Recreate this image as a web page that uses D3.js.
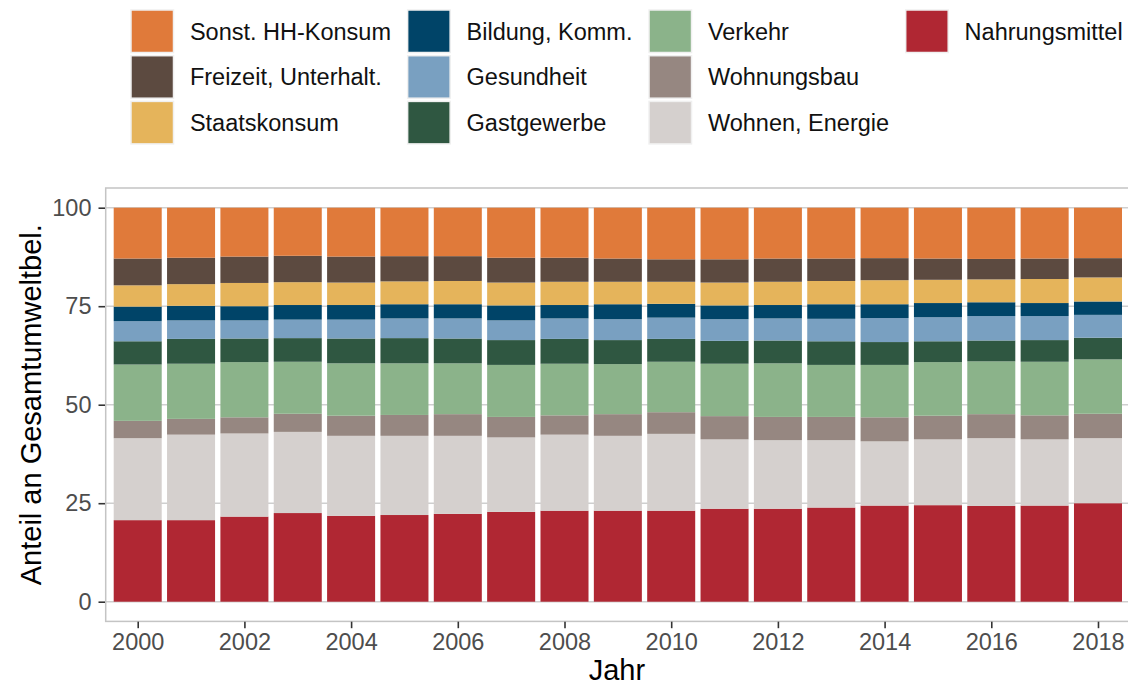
<!DOCTYPE html>
<html>
<head>
<meta charset="utf-8">
<script src="https://cdn.jsdelivr.net/npm/d3@7"></script>
<style>
  html, body { margin: 0; padding: 0; background: #fff; }
  svg { display: block; font-family: "Liberation Sans", Arial, sans-serif; }
</style>
</head>
<body>
<div id="chart"></div>
<script>
// Anteil an Gesamtumweltbelastung, 2000-2018 (Prozent)
const years = d3.range(2000, 2019);

const nahrungsmittel = [20.7, 20.7, 21.6, 22.5, 21.8, 22.0, 22.3, 22.8, 23.1, 23.1, 23.1, 23.6, 23.6, 23.9, 24.4, 24.5, 24.3, 24.4, 25.0];
const wohnenEnergie  = [20.8, 21.7, 21.1, 20.6, 20.3, 20.1, 19.8, 18.9, 19.3, 19.0, 19.5, 17.6, 17.4, 17.1, 16.3, 16.7, 17.2, 16.8, 16.5];
const wohnungsbau    = [4.4, 4.0, 4.1, 4.6, 5.1, 5.3, 5.5, 5.2, 4.9, 5.5, 5.5, 5.9, 5.9, 5.9, 6.1, 6.0, 6.1, 6.1, 6.2];
const verkehr        = [14.3, 14.0, 14.0, 13.2, 13.3, 13.1, 12.9, 13.2, 13.1, 12.7, 12.8, 13.3, 13.6, 13.2, 13.3, 13.6, 13.4, 13.6, 13.8];
const gastgewerbe    = [5.9, 6.3, 6.0, 6.0, 6.3, 6.4, 6.3, 6.3, 6.3, 6.1, 5.8, 5.8, 5.8, 6.0, 5.8, 5.3, 5.3, 5.5, 5.5];
const gesundheit     = [5.1, 4.7, 4.6, 4.7, 4.8, 5.0, 5.1, 5.0, 5.2, 5.3, 5.4, 5.5, 5.6, 5.7, 6.1, 6.1, 6.2, 6.1, 5.8];
const bildung        = [3.7, 3.7, 3.6, 3.7, 3.7, 3.6, 3.6, 3.8, 3.4, 3.8, 3.5, 3.5, 3.4, 3.7, 3.5, 3.6, 3.5, 3.3, 3.4];
const staatskonsum   = [5.4, 5.5, 5.9, 5.8, 5.7, 5.8, 5.9, 5.8, 5.9, 5.7, 5.6, 5.8, 5.9, 5.9, 6.1, 5.9, 5.8, 6.1, 6.1];
const freizeit       = [6.8, 6.7, 6.7, 6.7, 6.6, 6.4, 6.3, 6.3, 6.1, 5.9, 5.7, 5.9, 5.9, 5.7, 5.6, 5.4, 5.2, 5.2, 4.9];
const sonstHH        = [12.9, 12.7, 12.4, 12.2, 12.4, 12.3, 12.3, 12.7, 12.7, 12.9, 13.1, 13.1, 12.9, 12.9, 12.8, 12.9, 13.0, 12.9, 12.8];

// legend order (column-major, 3 rows)
const categories = [
  "Sonst. HH-Konsum", "Freizeit, Unterhalt.", "Staatskonsum",
  "Bildung, Komm.", "Gesundheit", "Gastgewerbe",
  "Verkehr", "Wohnungsbau", "Wohnen, Energie",
  "Nahrungsmittel"
];
const colors = [
  "#e07a3a", "#5c4a40", "#e5b45b",
  "#004468", "#79a0c1", "#2f5741",
  "#8bb38a", "#968781", "#d5d0ce",
  "#b02733"
];
const seriesValues = [sonstHH, freizeit, staatskonsum, bildung, gesundheit, gastgewerbe,
                      verkehr, wohnungsbau, wohnenEnergie, nahrungsmittel];
const yTicks = [0, 25, 50, 75, 100];
const xTicks = d3.range(2000, 2019, 2);

const width = 1128, height = 687;
const margin = {left: 105.7, right: 1130, top: 188, bottom: 621.4};

// table for the stack
const table = years.map((yr, i) => {
  const row = {year: yr};
  categories.forEach((c, k) => row[c] = seriesValues[k][i]);
  return row;
});
const stackKeys = categories.slice().reverse(); // Nahrungsmittel at the bottom
const series = d3.stack().keys(stackKeys)(table);

const color = d3.scaleOrdinal().domain(categories).range(colors);

const x = d3.scaleLinear().domain([1999.4, 2018.6]).range([margin.left, margin.right]);
const y = d3.scaleLinear().domain([-5, 105]).range([margin.bottom, margin.top]);

const svg = d3.select("#chart").append("svg")
  .attr("width", width).attr("height", height);

// panel background + grid
svg.append("rect")
  .attr("x", margin.left).attr("y", margin.top)
  .attr("width", margin.right - margin.left).attr("height", margin.bottom - margin.top)
  .attr("fill", "#fff");

svg.append("g")
  .selectAll("line")
  .data(yTicks)
  .join("line")
  .attr("x1", margin.left).attr("x2", margin.right)
  .attr("y1", d => y(d)).attr("y2", d => y(d))
  .attr("stroke", "#cfcfcf").attr("stroke-width", 1.5);

// bars
const barW = 0.9;
svg.append("g")
  .selectAll("g")
  .data(series)
  .join("g")
  .attr("fill", d => color(d.key))
  .selectAll("rect")
  .data(d => d)
  .join("rect")
  .attr("x", d => x(d.data.year - barW / 2))
  .attr("width", d => x(d.data.year + barW / 2) - x(d.data.year - barW / 2))
  .attr("y", d => y(d[1]))
  .attr("height", d => y(d[0]) - y(d[1]));

// panel border
svg.append("rect")
  .attr("x", margin.left).attr("y", margin.top)
  .attr("width", margin.right - margin.left).attr("height", margin.bottom - margin.top)
  .attr("fill", "none").attr("stroke", "#c4c4c4").attr("stroke-width", 1.5);

// axes
const yAxis = d3.axisLeft(y).tickValues(yTicks).tickSize(6.5).tickPadding(7);
svg.append("g")
  .attr("transform", `translate(${margin.left - 0.7},0)`)
  .call(yAxis)
  .call(g => g.select(".domain").remove())
  .call(g => g.selectAll(".tick line").attr("stroke", "#333").attr("stroke-width", 1.6))
  .call(g => g.selectAll(".tick text")
    .attr("fill", "#4d4d4d").attr("font-size", 23.5)
    .attr("font-family", "Liberation Sans, Arial, sans-serif"));

const xAxis = d3.axisBottom(x).tickValues(xTicks).tickFormat(d3.format("d")).tickSize(6.5).tickPadding(5);
svg.append("g")
  .attr("transform", `translate(0,${margin.bottom + 0.3})`)
  .call(xAxis)
  .call(g => g.select(".domain").remove())
  .call(g => g.selectAll(".tick line").attr("stroke", "#333").attr("stroke-width", 1.6))
  .call(g => g.selectAll(".tick text")
    .attr("fill", "#4d4d4d").attr("font-size", 23.5)
    .attr("font-family", "Liberation Sans, Arial, sans-serif"));

// axis titles
svg.append("text")
  .attr("x", (margin.left + margin.right) / 2 - 1)
  .attr("y", 680)
  .attr("text-anchor", "middle")
  .attr("font-size", 29)
  .attr("fill", "#000")
  .text("Jahr");

svg.append("text")
  .attr("transform", `translate(41,${(margin.top + margin.bottom) / 2}) rotate(-90)`)
  .attr("text-anchor", "middle")
  .attr("font-size", 29)
  .attr("fill", "#000")
  .text("Anteil an Gesamtumweltbel.");

// legend: 4 columns x 3 rows, filled by column
const keySize = 42.5, rowPitch = 45.7, rowTop = 10, textGap = 16.4, colGap = 16.6;
const legend = svg.append("g");
let colX = 131;
for (let c = 0; c < Math.ceil(categories.length / 3); c++) {
  const items = categories.slice(c * 3, c * 3 + 3);
  let maxW = 0;
  items.forEach((name, r) => {
    const gy = rowTop + r * rowPitch;
    legend.append("rect")
      .attr("x", colX).attr("y", gy)
      .attr("width", keySize).attr("height", keySize)
      .attr("fill", color(name))
      .attr("stroke", "#f0f0f0").attr("stroke-width", 1.5);
    const t = legend.append("text")
      .attr("x", colX + keySize + textGap)
      .attr("y", gy + keySize / 2)
      .attr("dy", "0.36em")
      .attr("font-size", 23.5)
      .attr("fill", "#111")
      .text(name);
    maxW = Math.max(maxW, t.node().getComputedTextLength());
  });
  colX += keySize + textGap + maxW + colGap;
}
</script>
</body>
</html>
